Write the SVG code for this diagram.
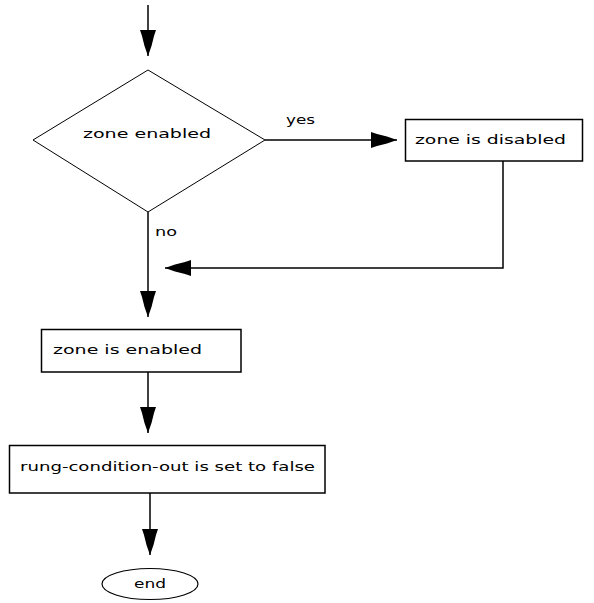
<svg xmlns="http://www.w3.org/2000/svg" width="594" height="603" viewBox="0 0 594 603">
<defs>
<style>
.box{fill:#fff;stroke:#000;stroke-width:1.5}
.ln{fill:none;stroke:#000;stroke-width:1.5}
.t{font-family:"DejaVu Sans",Verdana,sans-serif;font-size:13px;fill:#000}
</style>
<marker id="ah" markerUnits="userSpaceOnUse" markerWidth="30" markerHeight="18" viewBox="-28 -9 30 18" refX="0" refY="0" orient="auto">
<path d="M0,0 L-10,-3.5 L-20,-6 L-26,-8 L-26,8 L-20,6 L-10,3.5 Z" fill="#000"/>
</marker>
</defs>
<rect width="594" height="603" fill="#fff"/>
<g id="connectors">
<line class="ln" x1="148" y1="5" x2="148" y2="56" marker-end="url(#ah)"/>
<line class="ln" x1="265" y1="140" x2="397" y2="140" marker-end="url(#ah)"/>
<polyline class="ln" points="503,161 503,268 165,268" marker-end="url(#ah)"/>
<line class="ln" x1="148" y1="212" x2="148" y2="317" marker-end="url(#ah)"/>
<line class="ln" x1="148" y1="372" x2="148" y2="433" marker-end="url(#ah)"/>
<line class="ln" x1="150" y1="493" x2="150" y2="555" marker-end="url(#ah)"/>
<text class="t" x="286" y="124" textLength="29" lengthAdjust="spacingAndGlyphs">yes</text>
<text class="t" x="155" y="236" textLength="22" lengthAdjust="spacingAndGlyphs">no</text>
</g>
<g id="decision">
<polygon points="148,70 265,140 148,212 33,140" fill="#fff" stroke="#000" stroke-width="1"/>
<text class="t" x="83" y="138" textLength="128" lengthAdjust="spacingAndGlyphs">zone enabled</text>
</g>
<g id="disabled">
<rect class="box" x="405.5" y="119.5" width="177" height="41.5"/>
<text class="t" x="415" y="144" textLength="151" lengthAdjust="spacingAndGlyphs">zone is disabled</text>
</g>
<g id="enabled">
<rect class="box" x="41.5" y="329.5" width="199.5" height="42.5"/>
<text class="t" x="53" y="354" textLength="149" lengthAdjust="spacingAndGlyphs">zone is enabled</text>
</g>
<g id="rung">
<rect class="box" x="9.5" y="445.5" width="315.5" height="47.5"/>
<text class="t" x="20" y="471" textLength="295" lengthAdjust="spacingAndGlyphs">rung-condition-out is set to false</text>
</g>
<g id="end">
<ellipse cx="150" cy="584" rx="48" ry="15.5" fill="#fff" stroke="#000" stroke-width="1.2"/>
<text class="t" x="150" y="588" text-anchor="middle" textLength="32" lengthAdjust="spacingAndGlyphs">end</text>
</g>
</svg>
